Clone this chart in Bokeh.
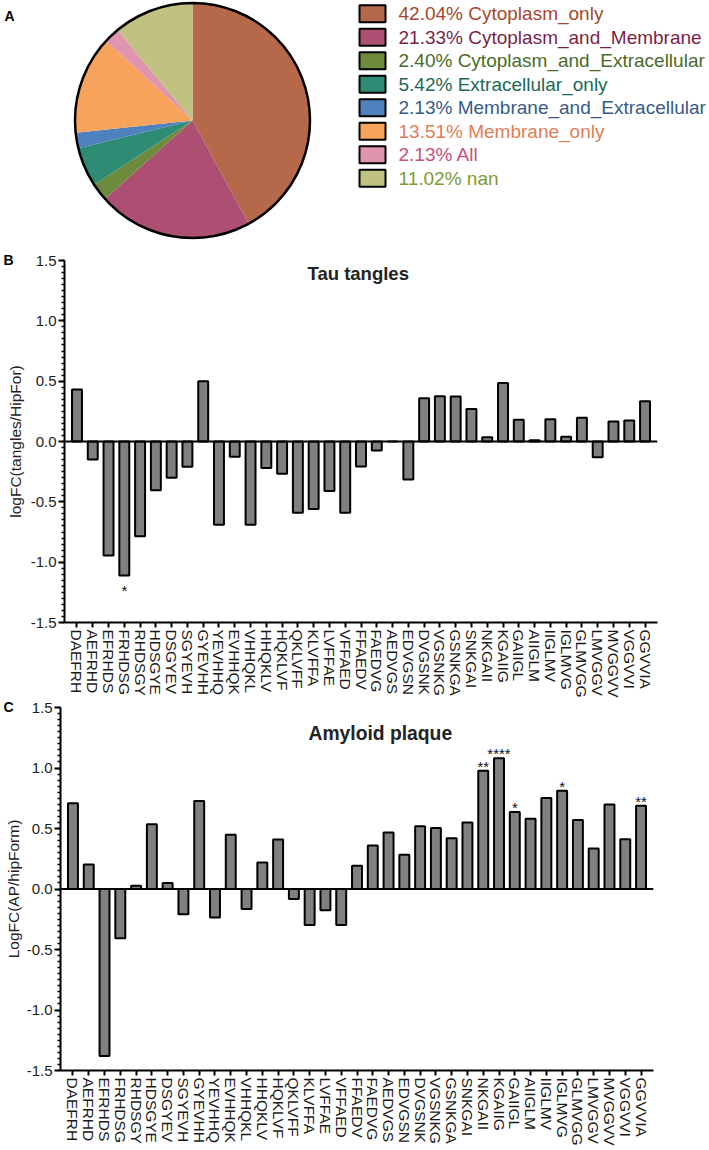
import numpy as np
from bokeh.plotting import figure
from bokeh.models import (ColumnDataSource, Range1d, FactorRange, FixedTicker,
                          NumeralTickFormatter, Span, Label, Title)
from bokeh.layouts import column
from bokeh.embed import file_html
from bokeh.resources import INLINE
from bokeh.core.properties import value

FONT = "Liberation Sans"

# ---------------- data ----------------
loc_names = ["Cytoplasm_only", "Cytoplasm_and_Membrane", "Cytoplasm_and_Extracellular",
             "Extracellular_only", "Membrane_and_Extracellular", "Membrane_only", "All", "nan"]
loc_pct = [42.04, 21.33, 2.40, 5.42, 2.13, 13.51, 2.13, 11.02]
slice_colors = ["#B5694A", "#AD4F72", "#6E8B3D", "#2E8B74", "#4E81BD", "#F7A35B", "#E194AE", "#BFC281"]
label_colors = ["#A5482C", "#7A1F4A", "#4A6A2A", "#1B6A56", "#375B88", "#E07E56", "#C8517A", "#7C9B36"]

peptides = ["DAEFRH", "AEFRHD", "EFRHDS", "FRHDSG", "RHDSGY", "HDSGYE", "DSGYEV", "SGYEVH",
            "GYEVHH", "YEVHHQ", "EVHHQK", "VHHQKL", "HHQKLV", "HQKLVF", "QKLVFF", "KLVFFA",
            "LVFFAE", "VFFAED", "FFAEDV", "FAEDVG", "AEDVGS", "EDVGSN", "DVGSNK", "VGSNKG",
            "GSNKGA", "SNKGAI", "NKGAII", "KGAIIG", "GAIIGL", "AIIGLM", "IIGLMV", "IGLMVG",
            "GLMVGG", "LMVGGV", "MVGGVV", "VGGVVI", "GGVVIA"]

tangles_logfc = [0.43, -0.15, -0.945, -1.11, -0.785, -0.405, -0.30, -0.21, 0.50, -0.69,
                 -0.127, -0.69, -0.22, -0.267, -0.59, -0.56, -0.41, -0.59, -0.207, -0.074,
                 0.0, -0.314, 0.358, 0.375, 0.372, 0.27, 0.036, 0.485, 0.18, 0.011,
                 0.185, 0.039, 0.196, -0.13, 0.165, 0.174, 0.333]
tangles_sig = [""] * 37
tangles_sig[3] = "*"

plaque_logfc = [0.709, 0.203, -1.38, -0.407, 0.027, 0.536, 0.049, -0.209, 0.728, -0.236,
                0.448, -0.165, 0.22, 0.409, -0.082, -0.297, -0.176, -0.297, 0.192, 0.36,
                0.467, 0.283, 0.519, 0.505, 0.42, 0.549, 0.978, 1.08, 0.637, 0.58,
                0.753, 0.813, 0.571, 0.335, 0.698, 0.412, 0.687]
plaque_sig = [""] * 37
plaque_sig[26] = "**"
plaque_sig[27] = "****"
plaque_sig[28] = "*"
plaque_sig[31] = "*"
plaque_sig[36] = "**"

y_ticks = [-1.5, -1.0, -0.5, 0.0, 0.5, 1.0, 1.5]

W = 709

# ---------------- panel A: pie + legend ----------------
HA = 245
pA = figure(width=W, height=HA, x_range=Range1d(0, W), y_range=Range1d(0, HA),
            output_backend="svg", toolbar_location=None, title=None,
            x_axis_location=None, y_axis_location=None, min_border=0,
            min_border_left=0, min_border_right=0, min_border_top=0, min_border_bottom=0,
            outline_line_color=None, frame_align=False)
pA.grid.visible = False

frac = np.array(loc_pct) / np.sum(loc_pct)
cum = np.concatenate([[0.0], np.cumsum(frac)])
cx, cy, r = 192, HA - 120, 117.5
srcA = ColumnDataSource(dict(start=np.pi / 2 - 2 * np.pi * cum[:-1],
                             end=np.pi / 2 - 2 * np.pi * cum[1:],
                             color=slice_colors))
pA.wedge(x=cx, y=cy, radius=r, start_angle="start", end_angle="end", direction="clock",
         fill_color="color", line_color=None, source=srcA)
pA.circle(x=[cx], y=[cy], radius=r, fill_color=None, line_color="black", line_width=2.5)

rows = np.arange(len(loc_names))
row_y = HA - (13.3 + 23.5 * rows)
pA.rect(x=372, y=row_y, width=26, height=17, fill_color=slice_colors,
        line_color="black", line_width=2)
pA.text(x=398, y=row_y, text=[f"{p:.2f}% {n}" for p, n in zip(loc_pct, loc_names)],
        text_color=label_colors, text_font=value(FONT), text_font_size="19px",
        text_baseline="middle", text_align="left")
pA.text(x=[4], y=[HA - 15], text=["A"], text_font=value(FONT), text_font_size="14px",
        text_font_style="bold", text_baseline="middle", text_color="black")


def bar_panel(vals, sig, ylabel, title, letter, height, top, bottom, left,
              title_x, title_y, title_size, label_standoff):
    FW = 593
    p = figure(width=W, height=height,
               x_range=FactorRange(*peptides, range_padding=0.29, range_padding_units="absolute"),
               y_range=Range1d(-1.5, 1.5), output_backend="svg", toolbar_location=None,
               title=None, min_border_top=top, min_border_bottom=bottom,
               min_border_left=left, min_border_right=W - left - FW,
               outline_line_color=None, frame_align=False)
    p.grid.visible = False
    src = ColumnDataSource(dict(pep=peptides, val=vals))
    p.vbar(x="pep", top="val", bottom=0, width=0.63, fill_color="#808080",
           line_color="black", line_width=2, source=src)
    p.add_layout(Span(location=0, dimension="width", line_color="black", line_width=2))

    # significance marks
    pos = [i for i, s in enumerate(sig) if s]
    up = [i for i in pos if vals[i] >= 0]
    dn = [i for i in pos if vals[i] < 0]
    if up:
        p.text(x=[peptides[i] for i in up], y=[vals[i] for i in up], text=[sig[i] for i in up],
               text_font=value(FONT), text_font_size="15px", text_align="center",
               text_baseline="bottom", y_offset=4, text_color="#111111")
    if dn:
        p.text(x=[peptides[i] for i in dn], y=[vals[i] for i in dn], text=[sig[i] for i in dn],
               text_font=value(FONT), text_font_size="15px", text_align="center",
               text_baseline="top", y_offset=7, text_color="#111111")

    ya = p.yaxis[0]
    ya.ticker = FixedTicker(ticks=y_ticks,
                            minor_ticks=[round(v, 2) for v in np.arange(-1.5, 1.5001, 0.05)])
    ya.formatter = NumeralTickFormatter(format="0.0")
    ya.axis_line_width = 2
    ya.major_tick_line_width = 2
    ya.major_tick_out = 6
    ya.major_tick_in = 0
    ya.minor_tick_out = 3
    ya.minor_tick_in = 0
    ya.minor_tick_line_width = 1.5
    ya.major_label_standoff = 2
    ya.major_label_text_font = FONT
    ya.major_label_text_font_size = "15px"
    ya.major_label_text_color = "#222222"
    ya.axis_label = ylabel
    ya.axis_label_text_font = FONT
    ya.axis_label_text_font_size = "15.5px"
    ya.axis_label_text_font_style = "normal"
    ya.axis_label_text_color = "#222222"
    ya.axis_label_standoff = label_standoff

    xa = p.xaxis[0]
    xa.axis_line_width = 2
    xa.major_tick_line_width = 2
    xa.major_tick_out = 5
    xa.major_tick_in = 0
    xa.major_label_orientation = "vertical"
    xa.major_label_standoff = 2
    xa.major_label_text_font = FONT
    xa.major_label_text_font_size = "15.5px"
    xa.major_label_text_color = "#1a1a1a"

    p.add_layout(Label(x=title_x, y=title_y, text=title, text_font=FONT,
                       text_font_size=title_size, text_font_style="bold",
                       text_align="left", text_baseline="alphabetic", text_color="#222222"))
    p.add_layout(Title(text=letter, align="left", offset=3 - left, standoff=-14,
                       vertical_align="bottom", text_font=FONT, text_font_size="14px",
                       text_font_style="bold", text_color="black"), "above")
    return p


pB = bar_panel(tangles_logfc, tangles_sig, "logFC(tangles/HipFor)", "Tau tangles", "B",
               height=455, top=15, bottom=77, left=64,
               title_x=15.11, title_y=1.393, title_size="18.5px", label_standoff=4)
pC = bar_panel(plaque_logfc, plaque_sig, "LogFC(AP/hipForm)", "Amyloid plaque", "C",
               height=450, top=7, bottom=80, left=60,
               title_x=15.43, title_y=1.285, title_size="19.3px", label_standoff=2)

layout = column(pA, pB, pC, spacing=0)
open("out.html", "w").write(file_html(layout, INLINE))
